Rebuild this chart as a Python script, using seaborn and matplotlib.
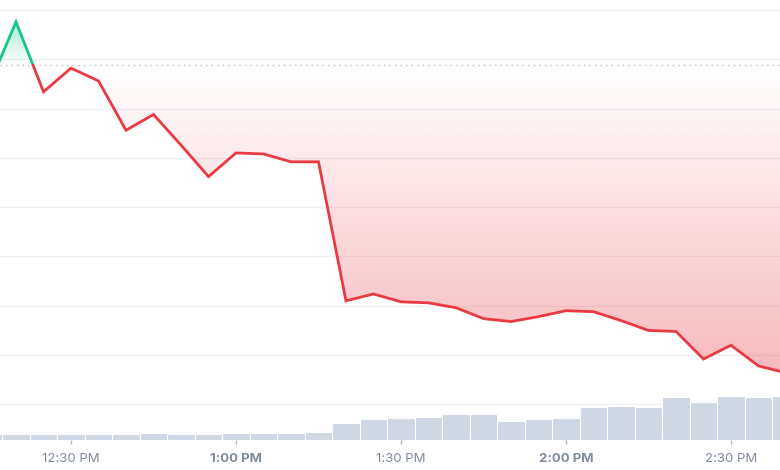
import numpy as np
import pandas as pd
import matplotlib
matplotlib.use("Agg")
import matplotlib.pyplot as plt
import matplotlib.dates as mdates
from matplotlib.colors import to_rgb
import seaborn as sns

# 5-minute samples, 12:15 PM to 2:40 PM
times = pd.date_range("2024-01-01 12:15", "2024-01-01 14:40", freq="5min")
price = [3.322, 3.388, 3.317, 3.341, 3.328, 3.278, 3.294, 3.263, 3.231, 3.255,
         3.254, 3.246, 3.246, 3.105, 3.112, 3.104, 3.103, 3.098, 3.087, 3.084,
         3.089, 3.095, 3.094, 3.085, 3.075, 3.074, 3.046, 3.060, 3.039, 3.032]
volume = [6.0, 6.0, 6.0, 6.0, 6.0, 6.0, 7.0, 6.0, 6.0, 7.0,
          7.0, 7.0, 8.3, 17.3, 20.7, 21.7, 23.3, 25.7, 25.7, 18.7,
          20.7, 21.7, 32.7, 33.7, 32.7, 43.3, 38.3, 44.3, 43.3, 44.3]
base_price = 3.344
tick_times = pd.date_range("2024-01-01 12:30", "2024-01-01 14:30", freq="30min")
tick_labels = ["12:30 PM", "1:00 PM", "1:30 PM", "2:00 PM", "2:30 PM"]

GREEN = "#16c784"
RED = "#ea3943"
BAR = "#cfd6e4"
TXT = "#808a9d"

sns.set_theme(style="white")
plt.rcParams['font.family'] = ['Inter', 'DejaVu Sans']

x = mdates.date2num(times)
p = np.array(price)

# insert the points where the line crosses the base price
xs, ps = [x[0]], [p[0]]
for i in range(1, len(x)):
    a, b = p[i - 1] - base_price, p[i] - base_price
    if a * b < 0:
        t = a / (a - b)
        xs.append(x[i - 1] + t * (x[i] - x[i - 1]))
        ps.append(base_price)
    xs.append(x[i])
    ps.append(p[i])
xs, ps = np.array(xs), np.array(ps)
up = np.where(ps >= base_price, ps, np.nan)
down = np.where(ps <= base_price, ps, np.nan)

fig = plt.figure(figsize=(7.8, 4.7), dpi=100)
ax = fig.add_axes([0, 30 / 470, 1, 440 / 470])
ax.set_facecolor("white")

x0 = mdates.date2num(pd.Timestamp("2024-01-01 12:30")) - 71 / 5.5 / 1440
x1 = mdates.date2num(pd.Timestamp("2024-01-01 14:30")) + 49 / 5.5 / 1440
ylo, yhi = 2.9639, 3.4101
ax.set_xlim(x0, x1)
ax.set_ylim(ylo, yhi)

ax.set_yticks(np.arange(3.0, 3.41, 0.05))
ax.yaxis.grid(True, color="#eff1f4", linewidth=1.0)
ax.xaxis.grid(False)
ax.set_axisbelow(True)


def gradient_fill(lower, upper, color, far):
    poly = ax.fill_between(xs, lower, upper, facecolor="none", edgecolor="none")
    rgb = to_rgb(color)
    n = 256
    yy = np.linspace(ylo, yhi, n)
    alpha = np.clip(np.abs(yy - base_price) / abs(far - base_price), 0, 1) * 0.35
    img = np.zeros((n, 2, 4))
    img[..., :3] = rgb
    img[..., 3] = alpha[:, None]
    im = ax.imshow(img, extent=[x0, x1, ylo, yhi], origin="lower",
                   aspect="auto", zorder=1, interpolation="bilinear")
    im.set_clip_path(poly.get_paths()[0], transform=ax.transData)


gradient_fill(np.minimum(ps, base_price), base_price, RED, min(price))
gradient_fill(base_price, np.maximum(ps, base_price), GREEN, max(price))

ax.axhline(base_price, color="#b4bbc7", linewidth=1.0, linestyle=(0, (1, 3)), zorder=2)

# NaN gaps split the line into its green and red parts
ax.plot(xs, up, color=GREEN, linewidth=2.0, zorder=3, solid_joinstyle="miter")
ax.plot(xs, down, color=RED, linewidth=2.0, zorder=3, solid_joinstyle="miter")
ax.set_xlim(x0, x1)
ax.set_ylim(ylo, yhi)

# volume bars on a twin axis
axv = ax.twinx()
axv.bar(x, volume, width=5 / 1440, color=BAR, edgecolor="white", linewidth=0.8, zorder=2)
axv.set_ylim(0, max(volume) / 0.1007)
axv.set_xlim(x0, x1)
axv.set_yticks([])

for a in (ax, axv):
    for s in a.spines.values():
        s.set_visible(False)
ax.tick_params(axis="y", left=False, labelleft=False)

ax.set_xticks(mdates.date2num(tick_times))
ax.set_xticklabels(tick_labels)
ax.tick_params(axis="x", bottom=True, length=3, width=1, color="#b4bbc7",
               labelsize=9.5, labelcolor=TXT, pad=6)
for lbl, t in zip(ax.get_xticklabels(), tick_times):
    if t.minute == 0:
        lbl.set_fontweight("bold")

fig.savefig("out.png", dpi=100)
